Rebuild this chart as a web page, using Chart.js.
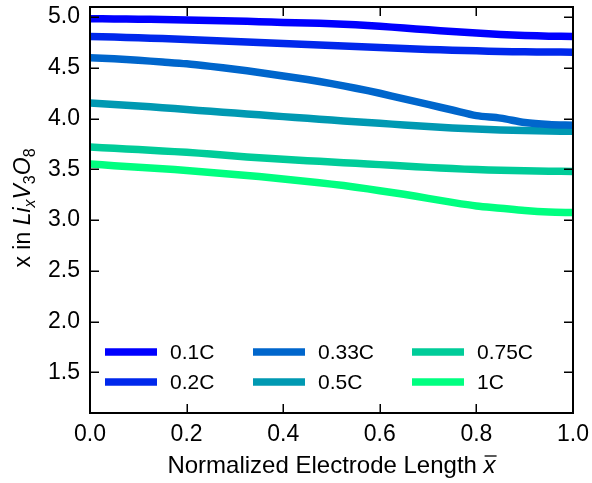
<!DOCTYPE html>
<html><head><meta charset="utf-8">
<script src="https://cdn.jsdelivr.net/npm/chart.js@4"></script>
<style>html,body{margin:0;padding:0;background:#fff}canvas{display:block}</style>
</head><body>
<canvas id="c" width="592" height="483"></canvas>
<script>
// ---- data ----
const xPositions = [0,0.05,0.1,0.15,0.2,0.25,0.3,0.35,0.4,0.45,0.5,0.55,0.6,0.65,0.7,0.75,0.8,0.85,0.9,0.95,1.0];
const rate01C  = [4.985,4.983,4.98,4.977,4.973,4.968,4.962,4.955,4.948,4.942,4.935,4.925,4.91,4.893,4.875,4.858,4.843,4.83,4.82,4.813,4.81];
const rate02C  = [4.81,4.804,4.797,4.789,4.78,4.77,4.76,4.75,4.74,4.73,4.72,4.71,4.70,4.69,4.682,4.674,4.668,4.662,4.658,4.656,4.655];
const rate033C = [4.60,4.59,4.575,4.558,4.54,4.515,4.487,4.455,4.42,4.385,4.345,4.30,4.25,4.195,4.14,4.085,4.03,4.005,3.962,3.942,3.935];
const rate05C  = [4.155,4.14,4.125,4.108,4.09,4.072,4.055,4.038,4.02,4.003,3.986,3.97,3.954,3.938,3.922,3.908,3.897,3.889,3.883,3.878,3.875];
const rate075C = [3.72,3.708,3.695,3.682,3.668,3.652,3.632,3.615,3.60,3.586,3.573,3.56,3.547,3.533,3.52,3.508,3.498,3.491,3.486,3.482,3.48];
const rate1C   = [3.553,3.537,3.522,3.506,3.49,3.47,3.45,3.43,3.405,3.38,3.355,3.325,3.29,3.255,3.215,3.175,3.14,3.118,3.095,3.08,3.075];
const seriesLabels = ['0.1C','0.2C','0.33C','0.5C','0.75C','1C'];
const seriesValues = [rate01C, rate02C, rate033C, rate05C, rate075C, rate1C];
const seriesColors = ['rgb(0,0,255)','rgb(0,40,236)','rgb(0,102,204)','rgb(0,153,178)','rgb(0,204,153)','rgb(0,255,128)'];
const xTickValues = [0,0.2,0.4,0.6,0.8,1.0];
const yTickValues = [1.5,2.0,2.5,3.0,3.5,4.0,4.5,5.0];
const xTitleText = 'Normalized Electrode Length ';
const xTitleVar = 'x';
const yTitleParts = [['x in ','n',0],['Li','i',0],['x','i',1],['V','i',0],['3','n',1],['O','i',0],['8','n',1]];

const FONT = '"Liberation Sans", Arial, sans-serif';

const datasets = seriesLabels.map((lab, i) => ({
  label: lab,
  data: xPositions.map((x, j) => ({x: x, y: seriesValues[i][j]})),
  borderColor: seriesColors[i],
  backgroundColor: seriesColors[i],
  borderWidth: 7.5,
  pointRadius: 0,
  tension: 0.3,
  fill: false,
  clip: 0,
  borderCapStyle: 'butt'
}));

const framePlugin = {
  id: 'frame',
  afterDraw(chart) {
    const ctx = chart.ctx, a = chart.chartArea;
    const xs = chart.scales.x, ys = chart.scales.y;
    ctx.save();
    ctx.strokeStyle = '#000';
    // ticks (inward, all four sides)
    ctx.lineWidth = 1.5;
    ctx.beginPath();
    xTickValues.forEach(v => {
      const p = Math.round(xs.getPixelForValue(v)) + 0.25;
      ctx.moveTo(p, a.bottom); ctx.lineTo(p, a.bottom - 9);
      ctx.moveTo(p, a.top); ctx.lineTo(p, a.top + 9);
    });
    yTickValues.forEach(v => {
      const p = Math.round(ys.getPixelForValue(v)) + 0.25;
      ctx.moveTo(a.left, p); ctx.lineTo(a.left + 9, p);
      ctx.moveTo(a.right, p); ctx.lineTo(a.right - 9, p);
    });
    ctx.stroke();
    // frame
    ctx.lineWidth = 2;
    ctx.strokeRect(a.left, a.top, a.right - a.left, a.bottom - a.top);

    // legend (column-major, 3 columns x 2 rows)
    const colX = [15, 163, 322];
    const rowY = [-61, -31];
    ctx.font = '21px ' + FONT;
    ctx.textBaseline = 'middle';
    ctx.textAlign = 'left';
    chart.data.datasets.forEach((ds, i) => {
      const c = Math.floor(i / 2), r = i % 2;
      const x0 = a.left + colX[c], y0 = a.bottom + rowY[r];
      ctx.strokeStyle = ds.borderColor;
      ctx.lineWidth = 7.5;
      ctx.beginPath(); ctx.moveTo(x0, y0); ctx.lineTo(x0 + 52, y0); ctx.stroke();
      ctx.fillStyle = '#000';
      ctx.fillText(ds.label, x0 + 65, y0 + 1);
    });

    // x title
    ctx.fillStyle = '#000';
    ctx.textBaseline = 'alphabetic';
    ctx.font = '24px ' + FONT;
    const w1 = ctx.measureText(xTitleText).width;
    ctx.font = 'italic 24px ' + FONT;
    const w2 = ctx.measureText(xTitleVar).width;
    const cx = (a.left + a.right) / 2;
    let sx = cx - (w1 + w2) / 2;
    const ty = 473;
    ctx.font = '24px ' + FONT;
    ctx.fillText(xTitleText, sx, ty);
    ctx.font = 'italic 24px ' + FONT;
    ctx.fillText(xTitleVar, sx + w1, ty);
    ctx.lineWidth = 1.3;
    ctx.strokeStyle = '#000';
    ctx.beginPath();
    ctx.moveTo(sx + w1 + 1, ty - 17); ctx.lineTo(sx + w1 + w2 + 1, ty - 17);
    ctx.stroke();

    // y title (rotated, with subscripts)
    const cy = 208;
    ctx.translate(30, cy);
    ctx.rotate(-Math.PI / 2);
    const fontFor = p => (p[1] === 'i' ? 'italic ' : '') + (p[2] ? '16px ' : '23px ') + FONT;
    let total = 0;
    yTitleParts.forEach(p => { ctx.font = fontFor(p); total += ctx.measureText(p[0]).width; });
    let px = -total / 2;
    yTitleParts.forEach(p => {
      ctx.font = fontFor(p);
      ctx.fillText(p[0], px, p[2] ? 5 : 0);
      px += ctx.measureText(p[0]).width;
    });
    ctx.restore();
  }
};

const zeroPad = s => { s.paddingLeft = 0; s.paddingRight = 0; s.paddingTop = 0; s.paddingBottom = 0; };

new Chart(document.getElementById('c'), {
  type: 'line',
  data: { datasets: datasets },
  options: {
    responsive: false,
    devicePixelRatio: 1,
    animation: false,
    layout: { padding: { top: 7, right: 19, left: 0, bottom: 0 } },
    plugins: { legend: { display: false }, tooltip: { enabled: false } },
    scales: {
      x: {
        type: 'linear', min: 0, max: 1,
        afterBuildTicks: s => { s.ticks = xTickValues.map(v => ({value: v})); },
        afterFit: s => { s.height = 70; zeroPad(s); },
        grid: { display: false, drawTicks: false },
        border: { display: false },
        ticks: { color: '#000', font: { family: FONT, size: 23 }, padding: 8, maxRotation: 0,
                 callback: v => v.toFixed(1) }
      },
      y: {
        type: 'linear', min: 1.1, max: 5.1,
        afterBuildTicks: s => { s.ticks = yTickValues.map(v => ({value: v})); },
        afterFit: s => { s.width = 90; zeroPad(s); },
        grid: { display: false, drawTicks: false },
        border: { display: false },
        ticks: { color: '#000', font: { family: FONT, size: 23 }, padding: 10,
                 callback: v => v.toFixed(1) }
      }
    }
  },
  plugins: [framePlugin]
});
</script>
</body></html>
